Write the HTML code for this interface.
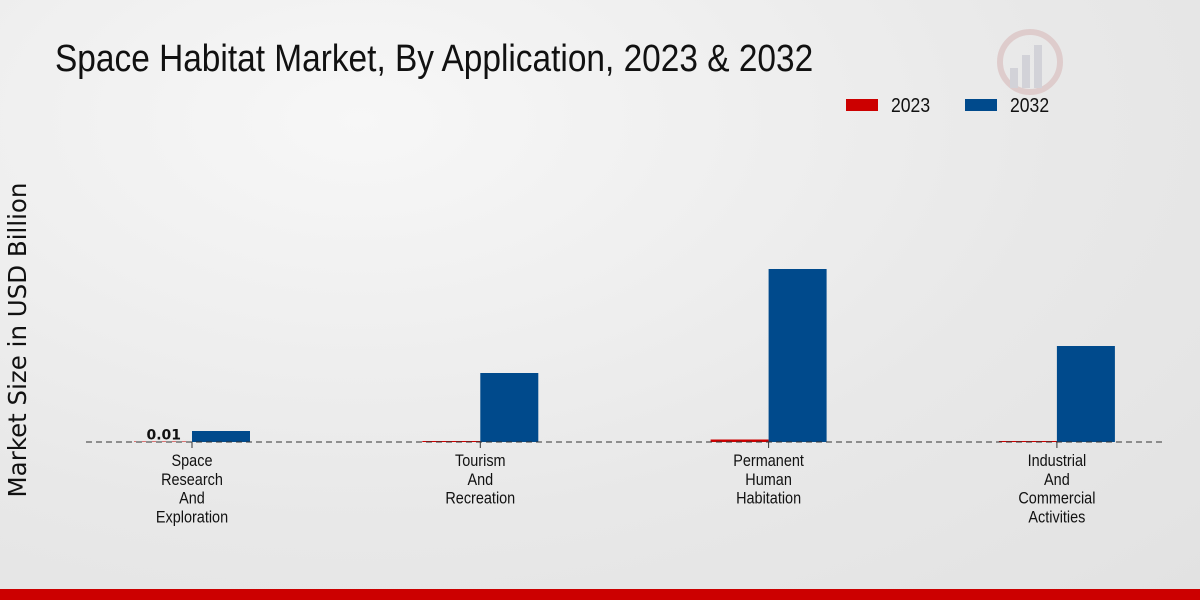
<!DOCTYPE html>
<html><head><meta charset="utf-8"><style>
body{margin:0;width:1200px;height:600px;overflow:hidden;font-family:"Liberation Sans",sans-serif}
#bg{position:absolute;left:0;top:0;width:1200px;height:600px;background:radial-gradient(ellipse at 30% 20%,#f7f7f7 0%,#e8e8e8 60%,#e2e2e2 100%)}
svg{position:absolute;left:0;top:0}
</style></head><body>
<div id="bg"></div>
<svg id="c" width="1200" height="600">
<text x="55" y="71" font-size="38" fill="#111" transform="translate(55 0) scale(0.88 1) translate(-55 0)">Space Habitat Market, By Application, 2023 &amp; 2032</text>
<g>
<rect x="846" y="99" width="32" height="12" fill="#cc0000"></rect>
<text x="891" y="112" font-size="20" fill="#111" transform="translate(891 0) scale(0.88 1) translate(-891 0)">2023</text>
<rect x="965" y="99" width="32" height="12" fill="#004a8c"></rect>
<text x="1010" y="112" font-size="20" fill="#111" transform="translate(1010 0) scale(0.88 1) translate(-1010 0)">2032</text>
</g>
<text transform="translate(26 340) rotate(-90)" text-anchor="middle" font-size="24.5" fill="#111" font-family="DejaVu Sans, sans-serif">Market Size in USD Billion</text>
<g opacity="0.35">
<circle cx="1030" cy="62" r="30" fill="none" stroke="#c99" stroke-width="6"></circle>
<rect x="1010" y="68" width="8" height="20" fill="#aab"></rect><rect x="1022" y="55" width="8" height="33" fill="#aab"></rect><rect x="1034" y="45" width="8" height="43" fill="#aab"></rect>
</g>
<g id="bars"></g>
<line x1="86" y1="442" x2="1164" y2="442" stroke="#333" stroke-dasharray="6,4"></line>
<g id="labels"></g>
<rect x="0" y="589" width="1200" height="11" fill="#cc0000"></rect>
</svg>
<script>
const categories=[["Space","Research","And","Exploration"],["Tourism","And","Recreation"],["Permanent","Human","Habitation"],["Industrial","And","Commercial","Activities"]];
const values2023=[0.01,0.02,0.05,0.02];
const values2032=[0.22,1.38,3.46,1.92];
const ns="http://www.w3.org/2000/svg";
const base=442,scale=50,bw=58;
function x(i){return 192+i*288.3;}
function y(v){return base-v*scale;}
const bars=document.getElementById('bars'),labels=document.getElementById('labels');
categories.forEach((c,i)=>{
 let r=document.createElementNS(ns,'rect');
 r.setAttribute('x',x(i)-bw);r.setAttribute('y',y(values2023[i]));r.setAttribute('width',bw);r.setAttribute('height',Math.max(base-y(values2023[i]),0.5));r.setAttribute('fill','#cc0000');
 
 
 bars.appendChild(r);
 let b=document.createElementNS(ns,'rect');
 b.setAttribute('x',x(i));b.setAttribute('y',y(values2032[i]));b.setAttribute('width',bw);b.setAttribute('height',base-y(values2032[i]));b.setAttribute('fill','#004a8c');
 
 
 bars.appendChild(b);
 let t=document.createElementNS(ns,'line');
 t.setAttribute('x1',x(i));t.setAttribute('x2',x(i));t.setAttribute('y1',base);t.setAttribute('y2',base+6);t.setAttribute('stroke','#333');
 
 
 labels.appendChild(t);
 c.forEach((line,k)=>{
  let tx=document.createElementNS(ns,'text');
  tx.setAttribute('x',x(i));tx.setAttribute('y',466+k*18.8);tx.setAttribute('text-anchor','middle');tx.setAttribute('font-size','17');tx.setAttribute('fill','#111');
  tx.setAttribute('transform','translate('+x(i)+' 0) scale(0.85 1) translate('+(-x(i))+' 0)');
  tx.textContent=line;
  
  
  labels.appendChild(tx);
 });
});
let vl=document.createElementNS(ns,'text');
vl.setAttribute('x',x(0)-11);vl.setAttribute('y',y(values2023[0])-2);vl.setAttribute('text-anchor','end');vl.setAttribute('font-size','14');vl.setAttribute('font-weight','bold');vl.setAttribute('font-family','DejaVu Sans, sans-serif');vl.setAttribute('fill','#111');
vl.textContent=values2023[0].toFixed(2);


labels.appendChild(vl);
</script>
</body></html>
